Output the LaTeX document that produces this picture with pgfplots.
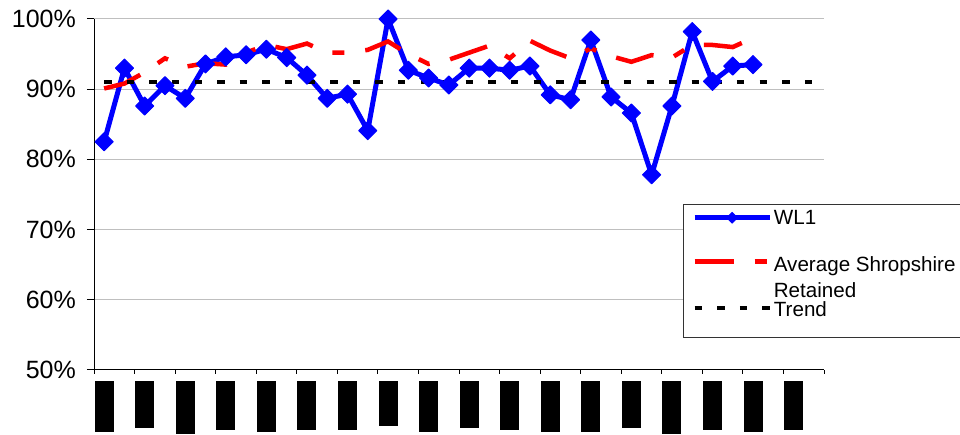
\documentclass[border=0pt]{standalone}
\usepackage{fontspec}
\setmainfont{Liberation Sans}
\usepackage{pgfplots}
\pgfplotsset{compat=1.18}
\usepackage{pgfplotstable}

\pgfplotstableread{
x wl avg
0 82.5 90.1
1 93.0 90.8
2 87.6 92.4
3 90.5 94.4
4 88.7 93.2
5 93.6 93.7
6 94.6 93.5
7 94.9 95.2
8 95.7 96.3
9 94.5 95.7
10 92.0 96.5
11 88.7 95.2
12 89.3 95.2
13 84.1 95.6
14 100.0 96.8
15 92.7 95.0
16 91.6 93.6
17 90.6 94.2
18 93.0 95.2
19 93.0 96.2
20 92.7 94.4
21 93.3 96.9
22 89.2 95.5
23 88.5 94.4
24 97.0 95.8
25 88.9 94.7
26 86.6 93.9
27 77.8 94.85
28 87.6 94.5
29 98.2 96.3
30 91.1 96.3
31 93.3 96.0
32 93.5 97.3
}\wldata

\pgfplotstableread{
x trend
0 91.07
35 91.07
}\trenddata

\newcommand{\rb}[1]{\rule{19pt}{#1pt}}

\begin{document}
\begin{tikzpicture}
\path[use as bounding box] (0,0) rectangle (960pt,435pt);
\begin{axis}[
  at={(94pt,65pt)}, anchor=south west,
  scale only axis, width=730pt, height=351pt,
  xmin=-0.5, xmax=35.5, ymin=50, ymax=100,
  axis lines*=left,
  axis line style={black, line width=1pt},
  clip=false,
  /pgf/number format/assume math mode=true,
  tick label style={font=\fontsize{25}{30}\selectfont},
  ytick={50,60,...,100},
  yticklabel={\pgfmathprintnumber{\tick}\%},
  yticklabel style={anchor=east, inner sep=0pt, xshift=-11pt},
  ymajorgrids,
  major grid style={black!25, line width=1pt},
  tick align=outside,
  major tick length=7pt,
  tick style={black, line width=1pt},
  xtick={-0.5,1.5,...,35.5},
  xticklabels={},
  xtick style={/pgfplots/major tick length=4pt},
  extra x ticks={0,2,...,34},
  extra x tick labels={\rb{51},\rb{47},\rb{53},\rb{49},\rb{51},\rb{49},\rb{49},\rb{45},\rb{51},\rb{47},\rb{49},\rb{51},\rb{51},\rb{47},\rb{53},\rb{49},\rb{51},\rb{49}},
  extra x tick style={grid=none, tick style={draw=none}},
  xticklabel style={anchor=north, inner sep=0pt, yshift=-4pt},
  legend image code/.code={\draw[mark repeat=2,mark phase=2,#1] plot coordinates {(0pt,0pt) (37.5pt,0pt) (75pt,0pt)};},
  legend style={at={(0.8068,0.4729)}, anchor=north west,
    draw=black!80, line width=0.8pt,
    inner xsep=9pt, inner ysep=4.3pt,
    row sep=0pt, column sep=2pt,
    font=\fontsize{20.6}{24}\selectfont,
    nodes={inner sep=0pt},
    cells={anchor=base west}},
]
\addplot[blue, line width=5pt, line join=round, mark=square*, mark size=6.4pt,
  mark options={rotate=45, solid, line width=1pt}, forget plot] table[x=x,y=wl] {\wldata};
\addplot[red, line width=4.5pt, dash pattern=on 39pt off 21pt on 12pt off 21pt, forget plot]
  table[x=x,y=avg] {\wldata};
\addplot[black, line width=4pt, dash pattern=on 7.5pt off 15.1pt, forget plot]
  table[x=x,y=trend] {\trenddata};

\addlegendimage{blue, line width=4.5pt, mark=square*, mark size=3.7pt, mark options={rotate=45, solid, line width=1pt}, yshift=7pt}
\addlegendentry[text height=16pt, text depth=30.4pt]{WL1}
\addlegendimage{red, line width=4.5pt, dash pattern=on 39pt off 21pt on 12pt off 21pt, yshift=9.5pt}
\addlegendentry[text height=16pt, text depth=10pt]{Average Shropshire}
\addlegendimage{empty legend}
\addlegendentry[text height=16pt, text depth=3.3pt]{Retained}
\addlegendimage{black, line width=4pt, dash pattern=on 7.5pt off 15.1pt, yshift=8.3pt}
\addlegendentry[text height=16pt, text depth=16.7pt]{Trend}
\end{axis}
\end{tikzpicture}
\end{document}
